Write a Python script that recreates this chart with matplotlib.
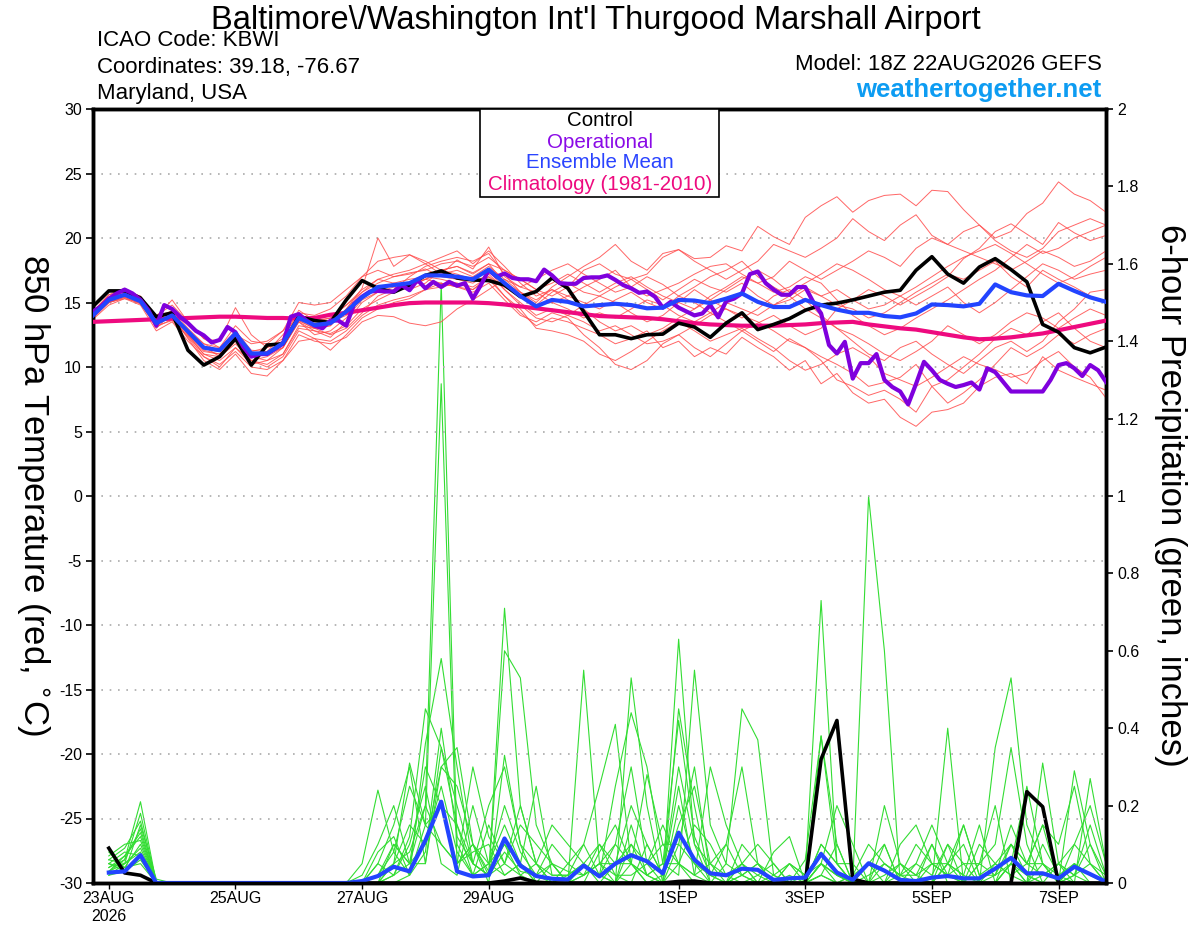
import matplotlib
matplotlib.use('Agg')
import matplotlib.pyplot as plt
from matplotlib.patches import Rectangle
import pandas as pd

plt.rcParams['font.family'] = ['Liberation Sans', 'DejaVu Sans']
plt.rcParams['axes.unicode_minus'] = False

# time axes (GEFS 18Z 22AUG2026 run)
times = pd.date_range('2026-08-22 18:00', periods=65, freq='6h')
times_op = pd.date_range('2026-08-22 18:00', periods=129, freq='3h')
times_pcp = pd.date_range('2026-08-23 00:00', periods=64, freq='6h')

tick_dates = ['2026-08-23', '2026-08-25', '2026-08-27', '2026-08-29',
              '2026-09-01', '2026-09-03', '2026-09-05', '2026-09-07']
tick_labels = ['23AUG\n2026', '25AUG', '27AUG', '29AUG', '1SEP', '3SEP', '5SEP', '7SEP']

# 850 hPa temperature, 6-hourly
control_t = [14.7, 15.9, 15.9, 15.35, 13.9, 14.2, 11.3, 10.15,
             10.8, 12.2, 10.15, 11.7, 11.8, 13.9, 13.6, 13.45,
             15.2, 16.7, 16.1, 15.8, 16.35, 17.1, 17.45, 16.9,
             16.75, 16.7, 16.35, 15.45, 15.85, 16.9, 16.1, 14.3,
             12.5, 12.5, 12.2, 12.5, 12.55, 13.4, 13.1, 12.3,
             13.4, 14.2, 12.9, 13.3, 13.75, 14.4, 14.8, 14.95,
             15.2, 15.5, 15.8, 15.95, 17.5, 18.55, 17.2, 16.5,
             17.75, 18.4, 17.55, 16.6, 13.3, 12.7, 11.5, 11.1,
             11.55]
mean_t = [14.0, 15.2, 15.6, 15.1, 13.4, 14.0, 12.75, 11.5,
          11.3, 12.6, 11.05, 11.05, 11.85, 13.8, 13.25, 13.4,
          14.3, 15.4, 16.2, 16.35, 16.5, 17.1, 17.1, 17.0,
          16.8, 17.55, 16.5, 15.5, 14.7, 15.2, 15.05, 14.7,
          14.8, 14.9, 14.8, 14.55, 14.6, 15.2, 15.15, 14.95,
          15.3, 15.7, 15.05, 14.65, 14.65, 15.2, 14.8, 14.45,
          14.2, 14.2, 13.95, 13.85, 14.15, 14.85, 14.8, 14.7,
          14.9, 16.4, 15.8, 15.55, 15.5, 16.45, 15.9, 15.4,
          15.05]
clim_t = [13.5, 13.55, 13.6, 13.65, 13.7, 13.75, 13.8, 13.85,
          13.9, 13.9, 13.85, 13.8, 13.8, 13.75, 13.8, 14.05,
          14.2, 14.4, 14.6, 14.8, 14.95, 15.0, 15.0, 15.0,
          15.0, 14.95, 14.85, 14.7, 14.55, 14.4, 14.25, 14.1,
          13.95, 13.9, 13.85, 13.8, 13.7, 13.55, 13.4, 13.3,
          13.25, 13.2, 13.2, 13.2, 13.25, 13.3, 13.4, 13.45,
          13.5, 13.3, 13.15, 13.0, 12.9, 12.7, 12.5, 12.3,
          12.15, 12.2, 12.3, 12.45, 12.6, 12.85, 13.1, 13.35,
          13.6]
# operational run, 3-hourly
oper_t = [14.3, 14.7, 15.3, 15.7, 16.0, 15.7, 15.2, 14.4,
          13.2, 14.8, 14.5, 13.9, 13.4, 12.8, 12.45, 11.9,
          12.1, 13.1, 12.7, 11.55, 10.8, 11.0, 11.0, 11.4,
          11.8, 13.9, 14.1, 13.6, 13.2, 13.0, 13.6, 13.6,
          13.2, 14.9, 15.45, 15.85, 15.9, 15.85, 15.85, 16.35,
          15.95, 16.75, 16.1, 16.6, 16.2, 16.6, 16.3, 16.5,
          15.3, 16.35, 17.5, 17.0, 17.25, 16.9, 16.8, 16.8,
          16.65, 17.55, 17.1, 16.5, 16.45, 16.45, 16.9, 16.95,
          16.95, 17.1, 16.75, 16.35, 16.1, 15.75, 15.85, 15.45,
          14.6, 15.05, 14.6, 14.3, 14.0, 14.15, 14.8, 13.85,
          15.1, 15.3, 15.7, 17.2, 17.4, 16.5, 16.0, 15.6,
          15.6, 16.2, 16.2, 15.05, 14.15, 11.7, 11.05, 11.95,
          9.1, 10.3, 10.3, 11.0, 9.0, 8.45, 8.1, 7.1,
          8.7, 10.4, 9.75, 9.0, 8.7, 8.45, 8.6, 8.8,
          8.25, 9.9, 9.6, 8.85, 8.1, 8.1, 8.1, 8.1,
          8.1, 9.0, 10.15, 10.3, 9.9, 9.3, 10.15, 9.75,
          8.85]

# perturbed members (red)
members_t = [
    [14.3, 15.6, 16.1, 15.4, 13.9, 15.2, 13.5, 12.2, 12.0, 14.6, 12.5, 11.5, 12.0, 13.6, 13.0, 13.2,
     14.5, 16.1, 20.0, 17.8, 18.7, 18.0, 17.2, 18.3, 17.6, 19.3, 17.0, 16.2, 16.8, 17.5, 18.0, 17.2,
     16.5, 15.8, 16.2, 17.0, 16.4, 15.5, 15.0, 14.2, 13.5, 12.8, 13.4, 14.0, 13.2, 12.5, 13.0, 14.5,
     15.2, 16.0, 15.5, 14.8, 15.5, 16.2, 17.0, 18.4, 19.2, 20.5, 21.1, 20.3, 19.5, 21.2, 20.4, 19.8, 20.2],
    [13.8, 15.0, 15.4, 14.9, 13.2, 13.6, 12.4, 11.0, 10.5, 11.5, 10.2, 10.5, 11.0, 13.0, 12.8, 12.3,
     13.5, 15.0, 15.8, 16.2, 16.0, 16.5, 17.5, 17.8, 17.3, 18.0, 16.5, 15.8, 15.0, 16.2, 17.0, 17.8,
     18.5, 19.5, 18.2, 17.5, 18.8, 19.1, 18.4, 18.5, 19.4, 19.0, 20.9, 20.1, 19.5, 21.6, 22.5, 23.2,
     22.0, 22.9, 23.3, 23.4, 22.5, 23.7, 23.6, 22.2, 21.0, 20.0, 20.5, 21.9, 22.7, 24.35, 23.4, 22.9, 22.0],
    [14.1, 15.3, 15.7, 15.2, 13.0, 14.2, 12.5, 11.2, 11.0, 12.2, 10.8, 11.0, 11.5, 13.5, 12.5, 12.8,
     13.8, 15.2, 15.8, 16.5, 16.3, 16.8, 16.5, 16.2, 16.0, 17.0, 15.5, 14.2, 13.2, 13.8, 13.5, 13.0,
     12.5, 11.8, 12.2, 12.8, 11.5, 12.0, 10.8, 11.5, 11.0, 12.3, 11.5, 10.8, 9.75, 10.5, 8.7, 9.5,
     8.0, 7.2, 7.5, 6.1, 5.4, 6.5, 6.7, 7.2, 8.5, 9.2, 9.5, 8.7, 10.8, 9.75, 9.2, 8.7, 8.2],
    [14.0, 15.1, 15.8, 15.3, 14.0, 14.3, 12.8, 11.8, 11.5, 12.8, 11.3, 11.2, 12.5, 14.0, 13.5, 13.8,
     14.8, 15.8, 16.5, 17.0, 17.2, 17.6, 17.0, 16.8, 16.5, 17.2, 16.0, 15.0, 14.0, 14.5, 14.0, 13.5,
     12.8, 13.2, 12.5, 11.8, 12.0, 12.5, 13.2, 14.0, 14.5, 14.0, 13.5, 12.8, 12.0, 11.5, 10.8, 10.2,
     9.5, 8.5, 8.8, 9.2, 10.2, 8.5, 9.0, 10.0, 11.0, 12.2, 13.0, 12.5, 13.5, 14.2, 13.0, 12.0, 11.5],
    [13.9, 15.2, 15.5, 15.0, 13.5, 14.0, 12.2, 10.5, 9.8, 11.0, 9.5, 9.3, 10.5, 12.5, 12.0, 11.8,
     12.3, 13.5, 14.0, 13.9, 13.4, 13.2, 13.5, 14.5, 15.2, 16.0, 16.8, 16.2, 15.8, 15.0, 15.5, 16.2,
     16.8, 17.5, 16.2, 15.5, 16.0, 16.5, 17.2, 17.8, 18.0, 17.2, 16.5, 17.0, 18.2, 17.5, 16.8, 17.5,
     18.2, 19.0, 18.5, 17.8, 19.2, 20.0, 19.5, 20.5, 21.0, 19.8, 19.0, 18.5, 19.2, 20.5, 21.0, 21.5, 21.0],
    [14.2, 15.4, 15.9, 15.5, 13.6, 14.4, 13.0, 11.8, 11.2, 12.5, 11.8, 12.0, 12.8, 14.2, 14.0, 14.5,
     15.5, 17.0, 18.2, 18.5, 18.7, 18.2, 17.5, 17.8, 17.2, 18.0, 17.5, 16.8, 16.0, 15.5, 16.2, 17.5,
     18.0, 17.2, 16.8, 17.2, 18.5, 19.1, 18.2, 17.5, 16.8, 17.5, 18.2, 19.5, 19.0, 18.5, 19.2, 20.0,
     21.5, 20.5, 19.8, 21.0, 21.8, 20.2, 19.5, 19.0, 18.5, 18.0, 17.5, 18.2, 19.0, 18.5, 17.8, 18.2, 19.0],
    [14.0, 15.0, 15.3, 14.8, 12.8, 13.5, 12.0, 10.8, 10.2, 11.2, 10.0, 9.8, 10.5, 12.0, 12.2, 11.3,
     12.5, 13.8, 14.5, 15.0, 15.3, 16.0, 16.5, 16.2, 15.8, 16.5, 15.2, 14.0, 13.5, 14.2, 13.8, 12.5,
     11.5, 10.2, 9.8, 10.5, 11.8, 12.5, 11.5, 10.8, 11.8, 12.8, 12.0, 11.2, 12.2, 11.5, 10.5, 9.0,
     8.5, 7.8, 8.2, 7.5, 6.5, 8.5, 7.2, 8.0, 9.0, 10.2, 11.5, 10.8, 11.5, 12.5, 11.8, 12.5, 13.0],
    [13.7, 14.8, 15.3, 15.0, 13.5, 13.8, 12.5, 11.0, 10.8, 12.0, 10.5, 10.2, 11.0, 13.2, 13.0, 12.5,
     13.0, 14.2, 15.5, 16.0, 17.0, 17.8, 18.2, 18.5, 18.2, 18.8, 17.2, 15.8, 14.8, 15.8, 16.5, 15.8,
     15.5, 16.2, 16.8, 16.0, 15.2, 16.0, 16.8, 16.2, 15.8, 16.5, 15.5, 14.8, 15.2, 16.0, 15.5, 14.8,
     14.5, 13.8, 14.2, 15.0, 15.8, 16.5, 17.2, 16.8, 17.5, 18.2, 17.0, 16.2, 17.5, 16.8, 16.2, 15.5, 15.0],
    [14.1, 15.3, 15.6, 15.0, 13.2, 14.1, 12.8, 11.5, 11.3, 12.5, 11.0, 11.2, 12.0, 14.0, 13.2, 13.5,
     14.0, 15.5, 16.0, 16.5, 16.8, 17.0, 16.8, 16.5, 16.2, 17.0, 16.2, 15.5, 14.8, 15.0, 14.5, 13.8,
     14.2, 13.8, 14.5, 15.2, 14.8, 14.0, 13.5, 14.2, 15.0, 14.5, 14.0, 14.8, 15.5, 14.5, 13.8, 13.0,
     12.5, 11.8, 11.0, 10.5, 11.2, 12.0, 13.2, 12.5, 11.8, 12.5, 13.5, 14.2, 13.8, 13.0, 13.8, 14.5, 14.0],
    [14.0, 15.1, 15.5, 15.2, 13.3, 13.9, 12.6, 11.3, 11.0, 12.2, 10.8, 10.5, 11.5, 13.6, 13.0, 13.2,
     14.5, 15.8, 16.8, 17.2, 17.5, 18.0, 18.5, 19.0, 18.0, 19.0, 17.8, 16.5, 15.5, 16.0, 15.2, 14.5,
     13.5, 12.8, 13.2, 12.5, 13.0, 13.8, 14.5, 15.5, 16.2, 17.0, 16.5, 15.8, 16.2, 17.0, 16.5, 15.2,
     14.0, 13.2, 12.5, 13.0, 13.8, 14.5, 15.2, 16.0, 16.8, 17.5, 18.5, 19.5, 18.8, 19.2, 20.0, 20.5, 21.0],
    [13.9, 15.0, 15.5, 15.1, 13.4, 14.0, 12.9, 11.6, 10.8, 11.8, 10.5, 10.8, 11.5, 13.5, 12.8, 12.6,
     13.2, 14.5, 15.2, 15.8, 16.5, 16.8, 17.5, 17.2, 16.8, 17.5, 16.0, 14.8, 13.8, 13.5, 14.0, 14.8,
     15.5, 15.0, 14.2, 13.5, 14.0, 15.0, 16.0, 15.2, 14.5, 13.8, 14.5, 15.5, 16.0, 15.2, 14.0, 13.0,
     12.0, 11.0, 10.5, 11.5, 12.0, 11.0, 10.2, 9.5, 10.5, 11.5, 12.0, 11.2, 12.0, 13.5, 14.5, 15.8, 16.0],
    [14.3, 15.6, 15.8, 15.4, 14.0, 14.8, 13.5, 12.2, 11.5, 13.2, 12.0, 11.8, 12.8, 15.0, 14.8, 15.0,
     16.0, 17.0, 17.5, 17.0, 17.3, 17.5, 18.0, 18.2, 17.8, 18.5, 17.5, 16.8, 16.0, 16.5, 17.2, 16.5,
     15.8, 16.5, 17.0, 16.2, 15.5, 15.0, 14.5, 15.2, 16.0, 16.8, 17.5, 16.8, 15.8, 16.5, 17.2, 18.0,
     17.5, 16.8, 16.0, 15.5, 16.2, 17.0, 17.8, 18.5, 19.0, 19.5, 18.8, 18.0, 17.2, 16.5, 17.0, 17.8, 18.5],
    [13.8, 15.0, 15.4, 14.9, 13.1, 13.7, 12.3, 10.8, 10.0, 11.5, 10.5, 10.0, 10.8, 12.8, 12.2, 12.0,
     12.8, 14.0, 14.8, 15.2, 15.5, 16.0, 16.2, 16.5, 16.0, 16.8, 15.5, 14.5, 13.0, 12.8, 12.5, 12.0,
     11.0, 10.5, 11.2, 12.0, 12.8, 13.5, 12.8, 12.0, 12.5, 13.0, 12.2, 11.5, 10.5, 9.75, 10.2, 11.0,
     11.5, 10.8, 9.5, 9.0, 8.5, 9.2, 10.0, 10.8, 10.2, 9.8, 9.2, 9.5, 10.5, 11.2, 10.0, 9.2, 7.6],
    [14.2, 15.4, 15.7, 15.1, 13.6, 14.1, 12.6, 11.4, 11.2, 12.4, 11.2, 11.5, 12.2, 14.4, 13.6, 13.8,
     14.8, 16.0, 16.8, 16.5, 16.2, 16.8, 17.2, 17.5, 17.0, 17.8, 16.8, 15.8, 15.2, 16.0, 15.5, 15.0,
     14.5, 15.2, 15.8, 15.0, 14.5, 15.5, 16.2, 17.0, 17.5, 18.2, 17.0, 16.2, 15.5, 16.2, 15.5, 16.0,
     15.2, 14.5, 14.8, 15.5, 14.8, 15.5, 16.2, 15.0, 14.2, 15.0, 16.0, 17.0, 18.0, 17.5, 16.8, 17.2, 17.5],
]

# 6-hour precipitation (inches)
control_p = [0.09, 0.026, 0.02, 0, 0, 0, 0, 0,
             0, 0, 0, 0, 0, 0, 0, 0,
             0, 0, 0, 0, 0, 0, 0, 0,
             0, 0.005, 0.013, 0.002, 0, 0, 0, 0,
             0, 0, 0, 0, 0.004, 0.005, 0, 0,
             0, 0, 0, 0, 0, 0.32, 0.42, 0.01,
             0, 0, 0, 0, 0, 0, 0, 0,
             0, 0, 0.236, 0.197, 0, 0, 0, 0]
mean_p = [0.027, 0.03, 0.072, 0, 0, 0, 0, 0,
          0, 0, 0, 0, 0, 0, 0, 0,
          0.005, 0.018, 0.042, 0.03, 0.11, 0.21, 0.03, 0.017,
          0.02, 0.115, 0.045, 0.018, 0.011, 0.009, 0.045, 0.017,
          0.05, 0.072, 0.056, 0.025, 0.13, 0.06, 0.025, 0.02,
          0.037, 0.034, 0.008, 0.012, 0.014, 0.075, 0.027, 0.008,
          0.051, 0.032, 0.008, 0.005, 0.014, 0.018, 0.012, 0.012,
          0.037, 0.065, 0.025, 0.025, 0.012, 0.042, 0.023, 0.003]
members_p = [
    [0.05, 0.04, 0.10, 0, 0, 0, 0, 0, 0, 0, 0, 0, 0, 0, 0, 0,
     0, 0.02, 0.10, 0.05, 0.20, 1.55, 0.10, 0.02, 0.05, 0.10, 0.05, 0, 0, 0, 0.05, 0.02,
     0, 0.05, 0.02, 0, 0.10, 0.05, 0, 0, 0, 0, 0, 0, 0, 0.05, 0.02, 0,
     0, 0, 0, 0, 0, 0.05, 0, 0, 0, 0.10, 0.02, 0, 0, 0.05, 0, 0],
    [0.03, 0.06, 0.21, 0, 0, 0, 0, 0, 0, 0, 0, 0, 0, 0, 0, 0,
     0, 0, 0.05, 0.31, 0.15, 1.29, 0.05, 0.10, 0, 0.33, 0.10, 0, 0, 0, 0, 0.08,
     0.15, 0.05, 0, 0, 0.45, 0.20, 0, 0, 0.05, 0, 0, 0, 0, 0.38, 0.10, 0,
     0, 0, 0, 0, 0.10, 0, 0, 0.05, 0.20, 0, 0, 0.31, 0.05, 0, 0, 0],
    [0.02, 0.03, 0.15, 0.01, 0, 0, 0, 0, 0, 0, 0, 0, 0, 0, 0, 0,
     0.05, 0.24, 0.08, 0.02, 0.36, 0.58, 0.30, 0.05, 0.02, 0.71, 0.20, 0.05, 0, 0, 0, 0,
     0, 0.53, 0.20, 0, 0.05, 0, 0, 0, 0, 0, 0, 0.05, 0.02, 0.73, 0.05, 0,
     0, 0, 0, 0, 0, 0.05, 0.10, 0, 0, 0, 0, 0, 0, 0.29, 0.10, 0],
    [0.06, 0.05, 0.08, 0, 0, 0, 0, 0, 0, 0, 0, 0, 0, 0, 0, 0,
     0, 0, 0.02, 0.12, 0.45, 0.35, 0.20, 0.05, 0.02, 0.60, 0.53, 0.15, 0.05, 0, 0.55, 0.05,
     0, 0.10, 0.05, 0, 0.63, 0.10, 0, 0, 0.02, 0, 0, 0, 0, 0.05, 0.02, 0,
     1.00, 0.60, 0, 0, 0, 0, 0, 0, 0, 0.05, 0, 0.05, 0.02, 0, 0.27, 0.05],
    [0.04, 0.07, 0.12, 0, 0, 0, 0, 0, 0, 0, 0, 0, 0, 0, 0, 0,
     0, 0.05, 0.15, 0.30, 0.05, 0.30, 0.35, 0.10, 0.05, 0.15, 0.05, 0.25, 0.02, 0.02, 0.10, 0.25,
     0.41, 0.05, 0.02, 0.05, 0.02, 0.55, 0.15, 0.05, 0.45, 0.37, 0.02, 0, 0, 0.02, 0, 0,
     0, 0.05, 0.02, 0, 0, 0.40, 0, 0, 0, 0.05, 0.02, 0, 0, 0, 0, 0],
    [0.08, 0.04, 0.05, 0, 0, 0, 0, 0, 0, 0, 0, 0, 0, 0, 0, 0,
     0, 0, 0.05, 0.08, 0.20, 0.10, 0.05, 0.30, 0.12, 0.05, 0.20, 0.05, 0, 0, 0.05, 0.02,
     0.25, 0.44, 0.30, 0.05, 0.42, 0.12, 0.02, 0, 0.10, 0.05, 0, 0, 0, 0.10, 0.05, 0.05,
     0, 0.02, 0.05, 0.02, 0.05, 0.02, 0, 0, 0.35, 0.53, 0.15, 0.05, 0, 0.05, 0.02, 0],
    [0.02, 0.05, 0.18, 0, 0, 0, 0, 0, 0, 0, 0, 0, 0, 0, 0, 0,
     0.02, 0.10, 0.20, 0.05, 0.10, 0.25, 0.08, 0.02, 0.15, 0.05, 0.02, 0, 0.05, 0.03, 0.02, 0.05,
     0.10, 0.30, 0.05, 0.15, 0.05, 0.02, 0.30, 0.15, 0.05, 0, 0.08, 0.12, 0, 0.05, 0.20, 0.10,
     0, 0, 0.10, 0.15, 0.05, 0.02, 0.15, 0.02, 0.05, 0.10, 0.05, 0.15, 0.10, 0.25, 0.05, 0.02],
    [0.05, 0.08, 0.07, 0, 0, 0, 0, 0, 0, 0, 0, 0, 0, 0, 0, 0,
     0, 0, 0, 0.02, 0.08, 0.40, 0.12, 0.05, 0.20, 0.30, 0.10, 0.05, 0.15, 0.10, 0.05, 0,
     0.05, 0.05, 0.28, 0.10, 0.05, 0.02, 0, 0.05, 0.02, 0.05, 0, 0, 0.06, 0.38, 0.05, 0,
     0.05, 0.10, 0, 0.05, 0.15, 0.05, 0.02, 0.15, 0, 0.05, 0.25, 0.05, 0, 0.10, 0.05, 0],
    [0.07, 0.10, 0.11, 0, 0, 0, 0, 0, 0, 0, 0, 0, 0, 0, 0, 0,
     0, 0.02, 0.08, 0.25, 0.15, 0.20, 0.05, 0.10, 0.02, 0.08, 0.03, 0.02, 0.10, 0.05, 0.02, 0.10,
     0.05, 0.20, 0.10, 0.02, 0.30, 0.10, 0.05, 0.02, 0.05, 0.10, 0.05, 0, 0.02, 0.05, 0, 0.02,
     0.10, 0.05, 0.02, 0.10, 0.05, 0.05, 0.15, 0.02, 0.02, 0.10, 0.05, 0.02, 0.05, 0.02, 0.10, 0.02],
    [0.03, 0.05, 0.09, 0, 0, 0, 0, 0, 0, 0, 0, 0, 0, 0, 0, 0,
     0, 0, 0.10, 0.05, 0.05, 0.35, 0.15, 0.05, 0.02, 0.05, 0.15, 0.10, 0.05, 0, 0.02, 0.05,
     0.02, 0, 0.10, 0.02, 0.15, 0.25, 0.05, 0, 0.02, 0.05, 0.02, 0, 0, 0.10, 0.05, 0,
     0, 0.20, 0.05, 0, 0, 0.10, 0, 0.05, 0.10, 0.35, 0.10, 0, 0.05, 0.10, 0.20, 0.05],
    [0.04, 0.06, 0.14, 0, 0, 0, 0, 0, 0, 0, 0, 0, 0, 0, 0, 0,
     0, 0.05, 0.02, 0.10, 0.25, 0.05, 0.02, 0.20, 0.05, 0.02, 0.05, 0, 0, 0.05, 0.10, 0.02,
     0, 0.15, 0.02, 0, 0.20, 0.05, 0.02, 0.10, 0.30, 0.05, 0, 0.02, 0, 0.02, 0.10, 0,
     0, 0, 0.05, 0.02, 0.10, 0.02, 0.05, 0, 0.05, 0.02, 0, 0.10, 0.02, 0.05, 0.02, 0],
    [0.05, 0.03, 0.06, 0, 0, 0, 0, 0, 0, 0, 0, 0, 0, 0, 0, 0,
     0, 0.02, 0.05, 0.15, 0.10, 0.30, 0.25, 0.10, 0.03, 0.10, 0.02, 0.05, 0.02, 0.02, 0.05, 0.10,
     0.02, 0.02, 0.05, 0.10, 0.10, 0.30, 0.02, 0, 0.05, 0.02, 0, 0.05, 0.02, 0.08, 0.02, 0,
     0.02, 0.05, 0.02, 0.05, 0.02, 0.10, 0.05, 0.05, 0.02, 0.15, 0.05, 0.05, 0, 0.02, 0.15, 0.02],
    [0.06, 0.09, 0.16, 0, 0, 0, 0, 0, 0, 0, 0, 0, 0, 0, 0, 0,
     0, 0, 0.02, 0.05, 0.30, 0.20, 0.15, 0.02, 0.05, 0.20, 0.08, 0.02, 0.05, 0, 0.02, 0.05,
     0.05, 0.10, 0.02, 0.05, 0.05, 0.15, 0.10, 0.02, 0, 0.02, 0.05, 0, 0, 0.05, 0.02, 0,
     0, 0.10, 0, 0, 0.05, 0.02, 0, 0.10, 0.05, 0.02, 0.05, 0.15, 0, 0.02, 0.05, 0],
    [0.03, 0.07, 0.13, 0, 0, 0, 0, 0, 0, 0, 0, 0, 0, 0, 0, 0,
     0, 0.08, 0.12, 0.02, 0.15, 0.10, 0.05, 0.08, 0.10, 0.02, 0.05, 0.02, 0, 0.02, 0.05, 0.02,
     0.10, 0.05, 0, 0.02, 0.25, 0.02, 0.05, 0.10, 0.02, 0, 0.02, 0.05, 0, 0.02, 0, 0.02,
     0.05, 0, 0.02, 0.02, 0, 0.05, 0.02, 0, 0.02, 0.05, 0, 0.02, 0.05, 0.02, 0, 0],
]

fig = plt.figure(figsize=(12, 9.27), dpi=100)
ax = fig.add_axes([93 / 1200, 1 - 883 / 927, 1013 / 1200, 774 / 927])
ax2 = ax.twinx()
ax.set_zorder(ax2.get_zorder() + 1)
ax.patch.set_visible(False)

# precipitation (right axis)
for m in members_p:
    ax2.plot(times_pcp, m, color='#33dd33', lw=0.8, zorder=1)
ax2.plot(times_pcp, control_p, color='black', lw=2.6, zorder=3)
ax2.plot(times_pcp, mean_p, color='#2244ff', lw=3, zorder=4)
ax2.set_ylim(0, 2)
ax2.set_yticks([0, 0.2, 0.4, 0.6, 0.8, 1, 1.2, 1.4, 1.6, 1.8, 2])
ax2.set_yticklabels(['0', '0.2', '0.4', '0.6', '0.8', '1', '1.2', '1.4', '1.6', '1.8', '2'])
ax2.tick_params(axis='y', direction='out', length=5, width=1.2, labelsize=11.5, pad=3)

# temperature (left axis)
for m in members_t:
    ax.plot(times, m, color='#ff4b4b', lw=0.7, alpha=0.85, zorder=2)
ax.plot(times, clim_t, color='#ee0a7f', lw=3, zorder=3)
ax.plot(times, control_t, color='black', lw=2.6, zorder=4)
ax.plot(times_op, oper_t, color='#7f00dd', lw=3, zorder=5)
ax.plot(times, mean_t, color='#2244ff', lw=3, zorder=6)

ax.set_ylim(-30, 30)
ax.set_yticks(range(-30, 31, 5))
ax.grid(axis='y', color='#aaaaaa', linestyle=(0, (1, 4)), lw=1.2)
ax.set_xlim(times[0], times[-1])
ax.set_xticks(pd.to_datetime(tick_dates))
ax.set_xticklabels(tick_labels, fontsize=11.5, linespacing=1.25)
ax.tick_params(axis='y', direction='out', length=5, width=1.2, labelsize=11.5, pad=3)
ax.tick_params(axis='x', direction='out', length=4, width=1, pad=2)

for a in (ax, ax2):
    for s in a.spines.values():
        s.set_linewidth(2.5)

fig.text(0.0275, 0.466, '850 hPa Temperature (red, $^{\\circ}$C)', rotation=270,
         fontsize=25, ha='center', va='center')
fig.text(0.975, 0.466, '6-hour Precipitation (green, inches)', rotation=270,
         fontsize=25, ha='center', va='center')

# header text (baselines at the reference pixel rows)
def fy(ypix):
    return 1 - ypix / 927

fig.text(0.4967, fy(28.5), "Baltimore\\/Washington Int'l Thurgood Marshall Airport",
         fontsize=23.5, ha='center', va='baseline')
fig.text(0.081, fy(46), 'ICAO Code: KBWI', fontsize=16, va='baseline')
fig.text(0.081, fy(72.5), 'Coordinates: 39.18, -76.67', fontsize=16, va='baseline')
fig.text(0.081, fy(99.5), 'Maryland, USA', fontsize=16, va='baseline')
fig.text(0.918, fy(70.5), 'Model: 18Z 22AUG2026 GEFS', fontsize=16, ha='right', va='baseline')
fig.text(0.918, fy(97), 'weathertogether.net', fontsize=18.5, fontweight='bold',
         color='#0d9cf2', ha='right', va='baseline')

# legend box
fig.add_artist(Rectangle((480 / 1200, fy(197)), 239 / 1200, 88 / 927,
                         transform=fig.transFigure, facecolor='white',
                         edgecolor='black', lw=1.2, zorder=10))
leg_items = [('Control', 'black', 121), ('Operational', '#8a0ae6', 142),
             ('Ensemble Mean', '#2a44ff', 163), ('Climatology (1981-2010)', '#ee0a7f', 185)]
for txt, col, ypix in leg_items:
    fig.text(0.5, fy(ypix), txt, color=col, fontsize=14.8,
             ha='center', va='center', zorder=11)

fig.savefig('out.png', dpi=100)
